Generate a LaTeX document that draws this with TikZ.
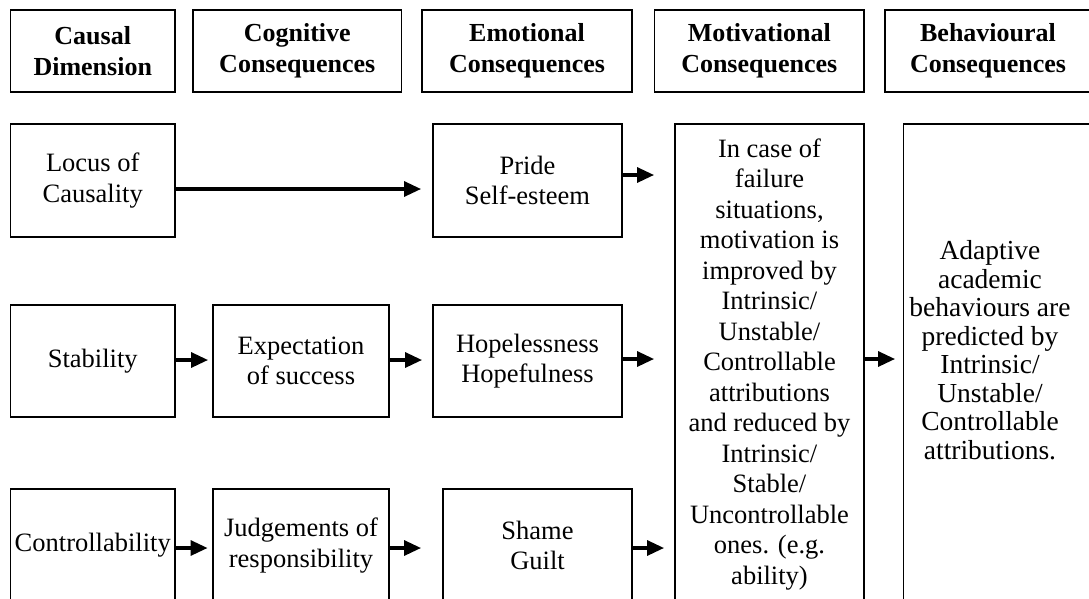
\documentclass[tikz,border=0pt]{standalone}
\usepackage{fontspec}
\setmainfont{Liberation Serif}
\usetikzlibrary{arrows.meta}
\tikzset{
  box/.style={draw, line width=1.9pt, rectangle, inner sep=0pt, align=center,
    font=\fontsize{26.5}{30.5}\selectfont},
  headbox/.style={box, minimum height=82pt, font=\bfseries\fontsize{26}{31}\selectfont},
  arr/.style={line width=3.2pt, -{Triangle[length=17pt,width=15pt]}},
}
\begin{document}
\begin{tikzpicture}[x=1pt,y=-1pt]
\useasboundingbox (0,0) rectangle (1089,598);
\fill[white] (0,0) rectangle (1089,598);
\clip (0,0) rectangle (1089,598);
% headers
\node[headbox, minimum width=164.5pt] (h1) at (92.75,51) {Causal\\Dimension};
\node[headbox, minimum width=208.5pt] (h2) at (297.25,51) {Cognitive\\Consequences};
\node[headbox, minimum width=210pt] (h3) at (527,51) {Emotional\\Consequences};
\node[headbox, minimum width=209.5pt] (h4) at (759.25,51) {Motivational\\Consequences};
\node[headbox, minimum width=206pt] (h5) at (988,51) {Behavioural\\Consequences};
% row 1
\node[box, minimum width=164.5pt, minimum height=113pt] (locus) at (92.75,180.5) {Locus of\\Causality};
\node[box, minimum width=189pt, minimum height=113pt] (pride) at (527.5,180.5) {Pride\\Self-esteem};
% row 2
\node[box, minimum width=164.5pt, minimum height=112pt] (stab) at (92.75,361) {Stability};
\node[box, minimum width=176pt, minimum height=112pt] (expect) at (301,361) {Expectation\\of success};
\node[box, minimum width=189pt, minimum height=112pt] (hope) at (527.5,361) {Hopelessness\\Hopefulness};
% row 3
\node[box, minimum width=164.5pt, minimum height=113pt] (control) at (92.75,545.5) {Controllability};
\node[box, minimum width=176pt, minimum height=113pt] (judge) at (301,545.5) {Judgements of\\responsibility};
\node[box, minimum width=189pt, minimum height=113pt] (shame) at (537.5,545.5) {Shame\\Guilt};
% tall boxes
\node[box, minimum width=189pt, minimum height=479pt] (mot) at (769.5,363.5) {};
\node[font=\fontsize{26.5}{30.5}\selectfont, align=center, inner sep=0pt] (mottext) at (769.5,364.5)
  {In case of\\failure\\situations,\\motivation is\\improved by\\Intrinsic/\\Unstable/\\Controllable\\attributions\\and reduced by\\Intrinsic/\\Stable/\\Uncontrollable\\ones. (e.g.\\ability)};
\node[box, minimum width=189pt, minimum height=479pt] (behav) at (998,363.5) {};
\node[font=\fontsize{27.5}{28.5}\selectfont, align=center, inner sep=0pt] (behavtext) at (990,350)
  {Adaptive\\academic\\behaviours are\\predicted by\\Intrinsic/\\Unstable/\\Controllable\\attributions.};
% arrows
\draw[arr, shorten >=11pt] (locus.east |- 0,189) -- (pride.west |- 0,189);
\draw[arr, shorten >=20pt] (pride.east |- 0,175) -- (mot.west |- 0,175);
\draw[arr, shorten >=4pt] (stab.east |- 0,360) -- (expect.west |- 0,360);
\draw[arr, shorten >=10pt] (expect.east |- 0,360) -- (hope.west |- 0,360);
\draw[arr, shorten >=20pt] (hope.east |- 0,359) -- (mot.west |- 0,359);
\draw[arr, shorten >=7.5pt] (mot.east |- 0,359) -- (behav.west |- 0,359);
\draw[arr, shorten >=4.5pt] (control.east |- 0,548) -- (judge.west |- 0,548);
\draw[arr, shorten >=21pt] (judge.east |- 0,548) -- (shame.west |- 0,548);
\draw[arr, shorten >=10pt] (shame.east |- 0,548) -- (mot.west |- 0,548);
\end{tikzpicture}
\end{document}
